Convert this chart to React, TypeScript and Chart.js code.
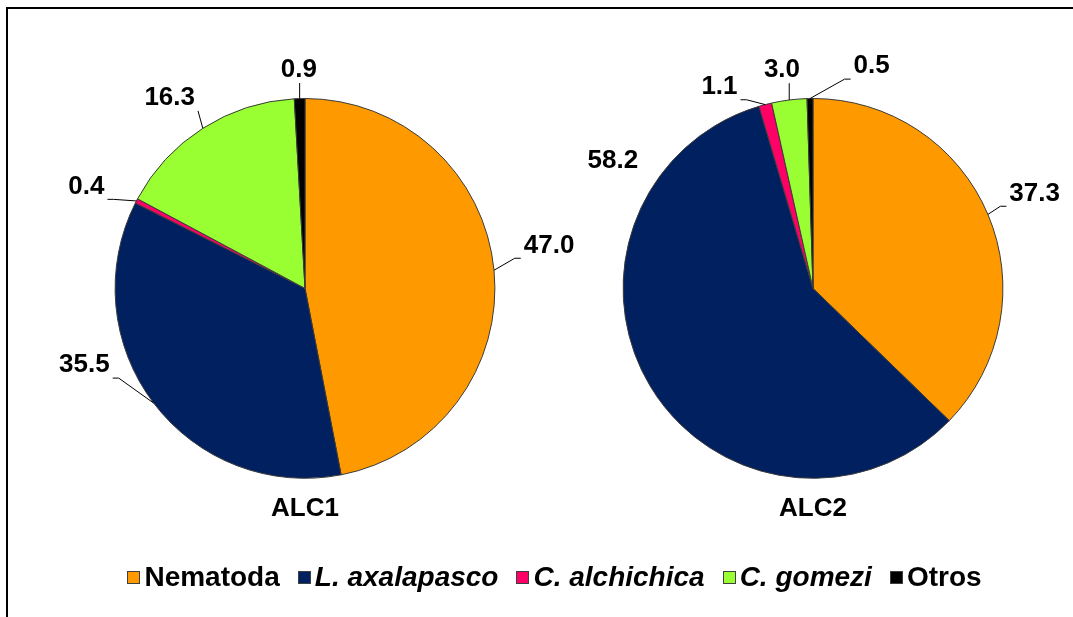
import React, { useEffect, useRef } from "react";
import { Chart, registerables } from "chart.js";

Chart.register(...registerables);

// ---- data ----
const categories = ["Nematoda", "L. axalapasco", "C. alchichica", "C. gomezi", "Otros"];
const italicCategory = [false, true, true, true, false];
const alc1Values = [47.0, 35.5, 0.4, 16.3, 0.9];
const alc2Values = [37.3, 58.2, 1.1, 3.0, 0.5];
const chartTitles = ["ALC1", "ALC2"];

// ---- styles ----
const sliceColors = ["#FF9900", "#002060", "#FF0066", "#99FF33", "#000000"];
const FONT = "'Liberation Sans', Arial, sans-serif";
const LABEL_SIZE = 26;

// label placement: angle (deg clockwise from 12 o'clock), distance in radii, leader on/off
const alc1LabelLayout = [
  { angle: 80, dist: 1.305, leader: true },
  { angle: 250.8, dist: 1.23, leader: true },
  { angle: 295, dist: 1.27, leader: true },
  { angle: 324.6, dist: 1.23, leader: true },
  { angle: 358.4, dist: 1.15, leader: true },
];
const alc2LabelLayout = [
  { angle: 66.8, dist: 1.27, leader: true },
  { angle: 302.5, dist: 1.25, leader: false },
  { angle: 335.1, dist: 1.17, leader: true },
  { angle: 351.9, dist: 1.16, leader: true },
  { angle: 14.8, dist: 1.21, leader: true },
];

type Layout = { angle: number; dist: number; leader: boolean };

const labelPlugin = {
  id: "sliceLabels",
  afterDatasetsDraw(chart: any, _args: any, opts: any) {
    const layout: Layout[] = opts.layout || [];
    const ctx = chart.ctx;
    const meta = chart.getDatasetMeta(0);
    const data = chart.data.datasets[0].data as number[];
    ctx.save();
    ctx.font = `bold ${LABEL_SIZE}px ${FONT}`;
    ctx.fillStyle = "#000";
    ctx.strokeStyle = "#000";
    ctx.lineWidth = 1;
    ctx.textAlign = "center";
    ctx.textBaseline = "middle";
    meta.data.forEach((arc: any, i: number) => {
      const L = layout[i];
      if (!L) return;
      const r = arc.outerRadius;
      const mid = (arc.startAngle + arc.endAngle) / 2;
      const ax = arc.x + Math.cos(mid) * r;
      const ay = arc.y + Math.sin(mid) * r;
      const a = ((L.angle - 90) * Math.PI) / 180;
      const tx = arc.x + Math.cos(a) * L.dist * r;
      const ty = arc.y + Math.sin(a) * L.dist * r;
      const text = data[i].toFixed(1);
      const w = ctx.measureText(text).width;
      const pad = 3;
      const hh = LABEL_SIZE * 0.38;
      const left = tx - w / 2 - pad;
      const right = tx + w / 2 + pad;
      const top = ty - hh - pad;
      const bottom = ty + hh + pad;
      if (L.leader) {
        const ex = Math.min(Math.max(ax, left), right);
        const ey = Math.min(Math.max(ay, top), bottom);
        const dx = Math.abs(ex - ax);
        const dy = Math.abs(ey - ay);
        ctx.beginPath();
        ctx.moveTo(ax, ay);
        if (dx > dy && (ex === left || ex === right)) {
          const side = ex === left ? -1 : 1;
          ctx.lineTo(ex + side * 6, ey);
          ctx.lineTo(ex, ey);
        } else {
          ctx.lineTo(ex, ey);
        }
        ctx.stroke();
      }
      ctx.fillText(text, tx, ty);
    });
    ctx.restore();
  },
};

function PieChart(props: { values: number[]; title: string; layout: Layout[]; left: number; width: number }) {
  const ref = useRef<HTMLCanvasElement | null>(null);
  useEffect(() => {
    if (!ref.current) return;
    const chart = new Chart(ref.current, {
      type: "pie",
      data: {
        labels: categories,
        datasets: [
          {
            data: props.values,
            backgroundColor: sliceColors,
            borderColor: "#3a3a3a",
            borderWidth: 1,
          },
        ],
      },
      options: {
        responsive: false,
        animation: false,
        events: [],
        layout: { padding: { top: 58, bottom: 0, left: 0, right: 0 } },
        plugins: {
          legend: { display: false },
          tooltip: { enabled: false },
          title: {
            display: true,
            position: "bottom",
            text: props.title,
            color: "#000",
            font: { family: FONT, size: 26, weight: "bold", lineHeight: 1.2 },
            padding: { top: 14, bottom: 0 },
          },
          sliceLabels: { layout: props.layout },
        } as any,
      },
      plugins: [labelPlugin],
    });
    return () => chart.destroy();
  }, []);
  return (
    <canvas
      ref={ref}
      width={props.width}
      height={484}
      style={{ position: "fixed", left: props.left, top: 40, width: props.width, height: 484 }}
    />
  );
}

export default function App() {
  return (
    <div style={{ fontFamily: FONT }}>
      <div
        style={{
          position: "fixed",
          left: 6,
          top: 7,
          width: 1067,
          height: 610,
          borderTop: "2px solid #000",
          borderLeft: "2px solid #000",
          boxSizing: "border-box",
          background: "#fff",
        }}
      />
      <PieChart values={alc1Values} title={chartTitles[0]} layout={alc1LabelLayout} left={25} width={560} />
      <PieChart values={alc2Values} title={chartTitles[1]} layout={alc2LabelLayout} left={563} width={500} />
      <div
        style={{
          position: "fixed",
          left: 0,
          width: 1073,
          top: 561,
          paddingLeft: 36,
          boxSizing: "border-box",
          display: "flex",
          justifyContent: "center",
          alignItems: "center",
          fontWeight: "bold",
          fontSize: 28,
          color: "#000",
          whiteSpace: "nowrap",
        }}
      >
        {categories.map((c, i) => (
          <div key={c} style={{ display: "flex", alignItems: "center", marginRight: i < categories.length - 1 ? 18 : 0 }}>
            <span
              style={{
                display: "inline-block",
                width: 11,
                height: 11,
                background: sliceColors[i],
                border: "1px solid #404040",
                marginRight: 4,
              }}
            />
            <span style={{ fontStyle: italicCategory[i] ? "italic" : "normal" }}>{c}</span>
          </div>
        ))}
      </div>
    </div>
  );
}
